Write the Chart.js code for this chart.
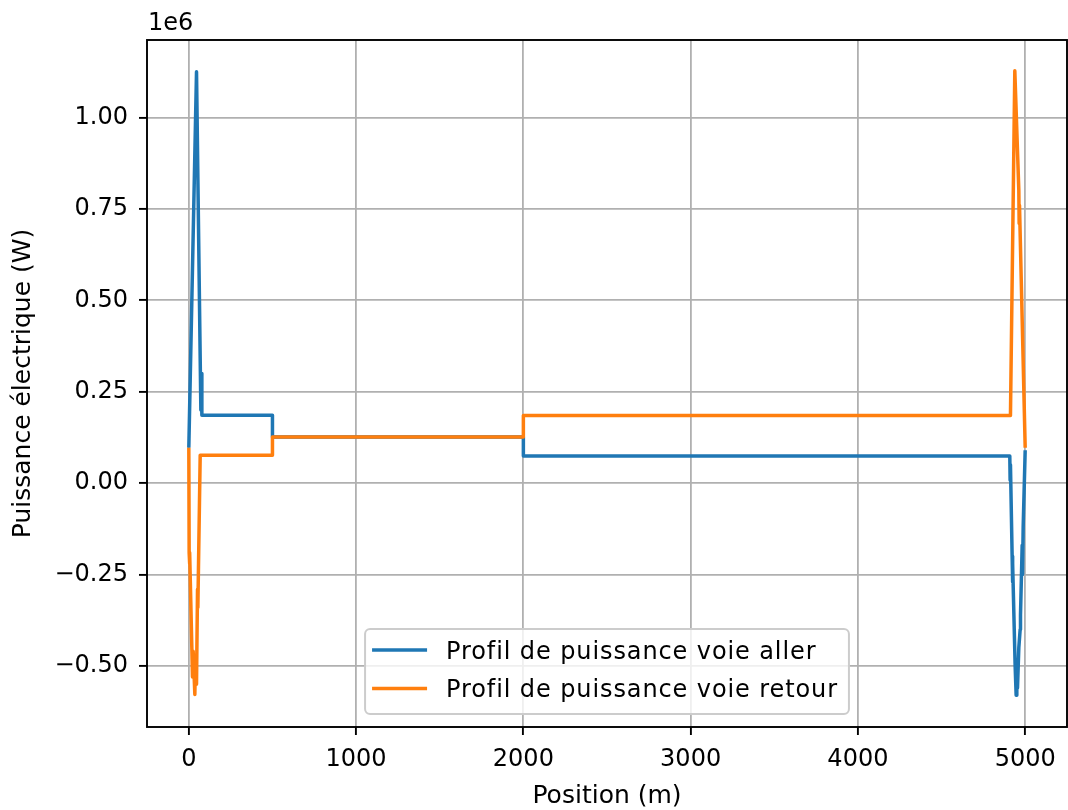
<!DOCTYPE html>
<html lang="fr">
<head>
<meta charset="utf-8">
<title>Profil de puissance</title>
<script src="https://cdn.jsdelivr.net/npm/chart.js@4.4.1/dist/chart.umd.min.js"></script>
<style>
  html, body { margin: 0; padding: 0; background: #fff; overflow: hidden; }
  #chart { display: block; }
</style>
</head>
<body>
<canvas id="chart" width="1068" height="810"></canvas>
<script>
// valeurs (position en m, puissance en W)
const posAller = [0, 46, 72, 76, 78, 500, 500, 2000, 2000, 4908, 4910, 4912, 4922, 4924, 4926,
                  4940, 4946, 4950, 4954, 4962, 4970, 4972, 4982, 4984, 4988, 5000];
const powerAller = [0.097e6, 1.125e6, 0.20e6, 0.30e6, 0.186e6, 0.186e6, 0.126e6, 0.126e6, 0.074e6,
                    0.074e6, 0.008e6, 0.05e6, -0.20e6, -0.27e6, -0.22e6, -0.50e6, -0.58e6, -0.50e6,
                    -0.56e6, -0.45e6, -0.40e6, -0.36e6, -0.17e6, -0.25e6, -0.12e6, 0.09e6];

const posRetour = [0, 2, 4, 6, 18, 22, 26, 36, 40, 46, 52, 54, 68, 500, 500, 2000, 2000,
                   4912, 4938, 4962, 4964, 4966, 5000];
const powerRetour = [0.097e6, -0.19e6, -0.22e6, -0.19e6, -0.45e6, -0.53e6, -0.46e6, -0.578e6,
                     -0.47e6, -0.55e6, -0.29e6, -0.34e6, 0.076e6, 0.076e6, 0.126e6, 0.126e6,
                     0.185e6, 0.185e6, 1.128e6, 0.80e6, 0.71e6, 0.76e6, 0.097e6];

const seriesLabels = ['Profil de puissance voie aller', 'Profil de puissance voie retour'];
const seriesColors = ['#1f77b4', '#ff7f0e'];

const xTicks = [0, 1000, 2000, 3000, 4000, 5000];
const yTicks = [-0.5e6, -0.25e6, 0, 0.25e6, 0.5e6, 0.75e6, 1.0e6];

const FONT = 'DejaVu Sans';

function toPoints(xs, ys) {
    return xs.map((x, i) => ({ x: x, y: ys[i] }));
}

function fmtY(v) {
    const s = (v / 1e6).toFixed(2);
    return s.replace('-', '\u2212');
}

// cadre, "1e6" et légende dessinés à la main (style matplotlib)
const mplPlugin = {
    id: 'mpl',
    afterDatasetsDraw(chart) {
        const ctx = chart.ctx;
        const a = chart.chartArea;
        ctx.save();
        ctx.strokeStyle = '#000';
        ctx.lineWidth = 1.9;
        ctx.strokeRect(a.left, a.top, a.right - a.left, a.bottom - a.top);

        ctx.fillStyle = '#000';
        ctx.font = '24px "' + FONT + '"';
        ctx.textAlign = 'left';
        ctx.textBaseline = 'alphabetic';
        ctx.fillText('1e6', a.left + 1, 30);

        // légende
        ctx.font = '24px "' + FONT + '"';
        ctx.letterSpacing = '0.9px';
        const textW = Math.max(...seriesLabels.map(t => ctx.measureText(t).width));
        const padL = 7, handleLen = 55, gap = 19, padR = 11;
        const boxW = padL + handleLen + gap + textW + padR;
        const boxH = 85;
        const bx = (a.left + a.right) / 2 - boxW / 2;
        const by = a.bottom - 13 - boxH;
        ctx.beginPath();
        ctx.roundRect(bx, by, boxW, boxH, 5);
        ctx.fillStyle = 'rgba(255,255,255,0.8)';
        ctx.fill();
        ctx.strokeStyle = '#cccccc';
        ctx.lineWidth = 2;
        ctx.stroke();
        seriesLabels.forEach((label, i) => {
            const rowY = by + 21 + i * 38.6;
            ctx.beginPath();
            ctx.strokeStyle = seriesColors[i];
            ctx.lineWidth = 3.5;
            ctx.moveTo(bx + padL, rowY);
            ctx.lineTo(bx + padL + handleLen, rowY);
            ctx.stroke();
            ctx.fillStyle = '#000';
            ctx.fillText(label, bx + padL + handleLen + gap, rowY + 8.8);
        });
        ctx.restore();
    }
};

const ctx = document.getElementById('chart').getContext('2d');
new Chart(ctx, {
    type: 'scatter',
    data: {
        datasets: [
            {
                label: seriesLabels[0],
                data: toPoints(posAller, powerAller),
                borderColor: seriesColors[0],
                backgroundColor: seriesColors[0],
                borderWidth: 3.5,
                showLine: true,
                pointRadius: 0,
                borderJoinStyle: 'round',
                order: 1
            },
            {
                label: seriesLabels[1],
                data: toPoints(posRetour, powerRetour),
                borderColor: seriesColors[1],
                backgroundColor: seriesColors[1],
                borderWidth: 3.5,
                showLine: true,
                pointRadius: 0,
                borderJoinStyle: 'round',
                order: 0
            }
        ]
    },
    options: {
        responsive: false,
        devicePixelRatio: 1,
        animation: false,
        layout: { padding: { top: 40, right: 1, left: 0, bottom: 0 } },
        plugins: {
            legend: { display: false },
            tooltip: { enabled: false }
        },
        scales: {
            x: {
                type: 'linear',
                min: -250,
                max: 5250,
                afterFit: s => { s.height = 83; },
                afterBuildTicks: s => { s.ticks = xTicks.map(v => ({ value: v })); },
                border: { display: false },
                grid: { color: '#b0b0b0', lineWidth: 1.8, tickLength: 8, tickColor: '#000', tickWidth: 1.9 },
                ticks: {
                    autoSkip: false, maxRotation: 0, padding: 10, color: '#000',
                    font: { family: FONT, size: 24 },
                    callback: v => String(v)
                },
                title: {
                    display: true, text: 'Position (m)', color: '#000',
                    font: { family: FONT, size: 25 },
                    padding: { top: 0, bottom: -1 }
                }
            },
            y: {
                type: 'linear',
                min: -667000,
                max: 1212000,
                afterFit: s => { s.width = 147; },
                afterBuildTicks: s => { s.ticks = yTicks.map(v => ({ value: v })); },
                border: { display: false },
                grid: { color: '#b0b0b0', lineWidth: 1.8, tickLength: 8, tickColor: '#000', tickWidth: 1.9 },
                ticks: {
                    autoSkip: false, padding: 11, color: '#000',
                    font: { family: FONT, size: 24 },
                    callback: v => fmtY(v)
                },
                title: {
                    display: true, text: 'Puissance électrique (W)', color: '#000',
                    font: { family: FONT, size: 25 },
                    padding: { top: 8, bottom: 0 }
                }
            }
        }
    },
    plugins: [mplPlugin]
});
</script>
</body>
</html>
